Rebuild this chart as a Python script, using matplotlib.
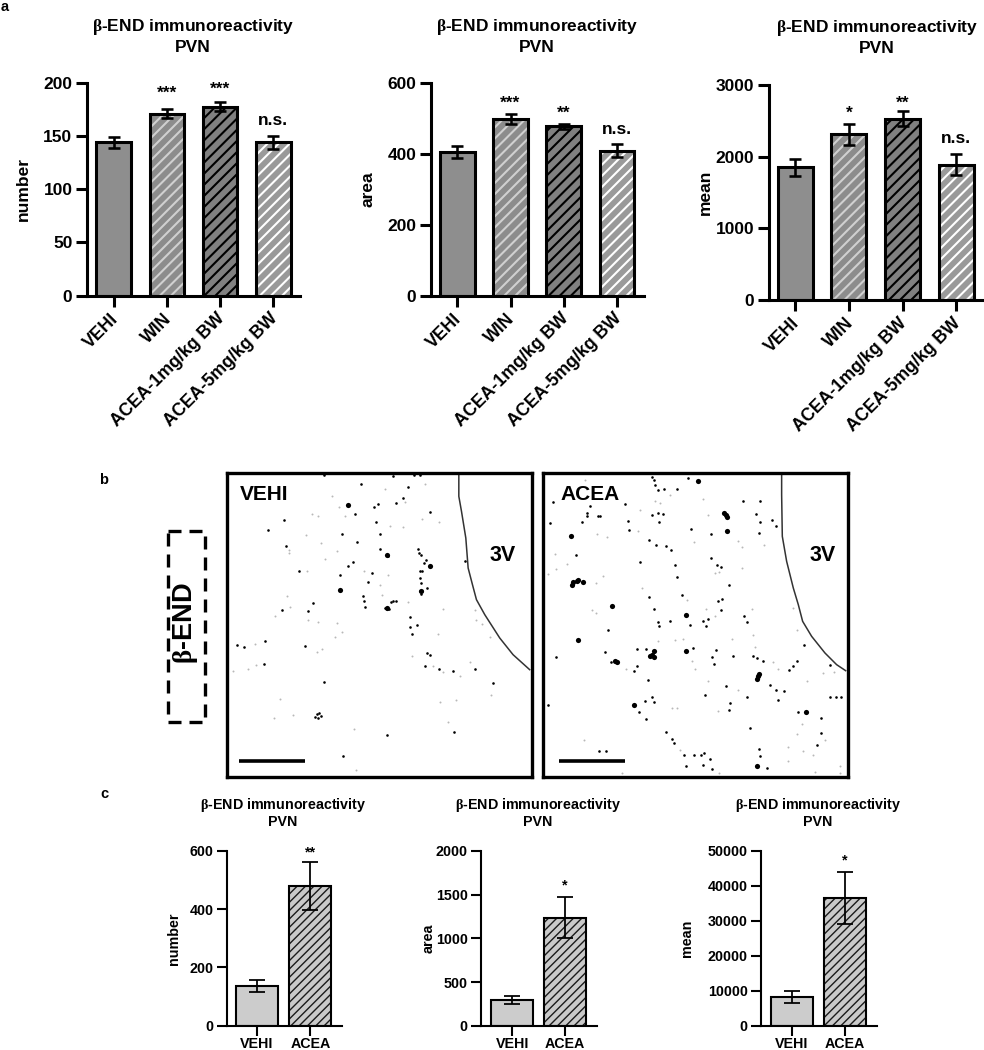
import matplotlib
matplotlib.use("Agg")
import matplotlib.pyplot as plt
from matplotlib.patches import Rectangle
from matplotlib.transforms import ScaledTranslation

W, H = 984, 1050
DPI = 100
PX = 72 / DPI
plt.rcParams['font.family'] = ['Liberation Sans', 'DejaVu Sans']
plt.rcParams['font.weight'] = 'bold'
plt.rcParams['mathtext.fontset'] = 'custom'
plt.rcParams['mathtext.it'] = 'Liberation Serif'
plt.rcParams['mathtext.rm'] = 'Liberation Sans:bold'
plt.rcParams['mathtext.default'] = 'regular'

# ---------- data ----------
groups_a = ['VEHI', 'WIN', 'ACEA-1mg/kg BW', 'ACEA-5mg/kg BW']
groups_c = ['VEHI', 'ACEA']
beta = r'$\mathit{\beta}$'
title_text = beta + '-END immunoreactivity\nPVN'

number_a = [144, 171, 177.5, 144]
number_a_err = [5, 4.5, 4, 6]
area_a = [405, 498, 477, 408]
area_a_err = [17, 15, 7, 18]
mean_a = [1850, 2310, 2530, 1890]
mean_a_err = [120, 150, 105, 150]
sig_number_a = ['', '***', '***', 'n.s.']
sig_area_a = ['', '***', '**', 'n.s.']
sig_mean_a = ['', '*', '**', 'n.s.']

number_c = [137, 480]
number_c_err = [20, 82]
area_c = [297, 1235]
area_c_err = [45, 235]
mean_c = [8200, 36500]
mean_c_err = [1600, 7400]
sig_number_c = ['', '**']
sig_area_c = ['', '*']
sig_mean_c = ['', '*']

vehi_dark = [(563,121),(655,117),(643,127),(709,116),(745,68),(811,142),(585,147),(371,165),(322,197),(547,208),(647,171),(659,208),(590,233),(378,243),(660,254),(681,271),(683,275),(775,253),(778,266),(783,270),(793,296),(809,303),(798,285),(415,319),(636,326),(540,332),(565,305),(578,292),(780,320),(785,318),(781,341),(784,355),(541,377),(624,353),(800,370),(780,380),(786,378),(782,387),(610,395),(613,410),(614,428),(700,408),(693,412),(708,408),(675,430),(681,432),(686,434),(460,414),(365,437),(443,438),(749,456),(772,480),(750,488),(757,507),(229,542),(250,547),(313,530),(436,543),(810,572),(800,566),(795,604),(310,597),(491,651),(1000,655),(882,803),(681,810),(549,875),(470,748),(478,745),(465,757),(483,755),(475,760),(730,99),(698,35),(762,32),(780,30),(491,30),(603,58),(878,618),(946,612),(838,613),(915,288)]
vehi_faint = [(515,95),(675,73),(795,57),(735,112),(537,128),(475,155),(455,147),(555,155),(785,162),(730,187),(690,183),(838,173),(438,210),(482,235),(385,255),(385,265),(532,258),(495,282),(612,320),(685,330),(440,320),(660,362),(665,390),(745,412),(850,432),(945,435),(380,393),(390,428),(345,455),(445,465),(475,472),(530,475),(545,503),(525,517),(285,537),(487,553),(470,563),(263,612),(287,600),(218,618),(755,575),(820,603),(848,623),(902,635),(930,593),(995,690),(840,713),(888,706),(360,702),(340,760),(397,752),(865,772),(582,792),(587,915),(835,508),(992,518),(968,478),(950,467)]
vehi_large = [(809,303),(784,380),(680,431),(681,272),(541,377),(563,121)]
vehi_curve = [(897,28),(897,95),(905,140),(918,220),(925,310),(938,360),(950,405),(975,450),(1020,520),(1060,570),(1110,615)]

acea_large = [(108,214),(454,450),(350,570),(358,578),(357,558),(345,575),(572,152),(568,146),(575,158),(575,198),(130,525),(240,590),(245,592),(297,720),(812,742),(670,635),(672,628),(666,642),(125,350),(115,352),(130,345),(143,353),(111,360),(230,425),(488,48),(453,560),(665,903)]
acea_dark = [(350,38),(356,45),(360,60),(370,75),(388,73),(425,72),(458,40),(55,112),(270,118),(165,125),(155,145),(155,155),(140,172),(190,153),(196,153),(368,145),(352,150),(385,148),(372,172),(467,193),(528,208),(625,110),(675,110),(663,148),(676,173),(672,205),(712,166),(724,183),(45,176),(280,170),(283,195),(343,225),(363,240),(393,245),(408,255),(122,270),(316,292),(420,302),(425,338),(528,280),(547,302),(558,308),(583,362),(440,390),(343,397),(357,433),(368,472),(372,485),(405,470),(220,497),(465,480),(512,485),(518,462),(505,468),(550,408),(560,403),(558,435),(626,455),(636,472),(210,563),(305,553),(333,553),(64,577),(228,592),(307,605),(297,620),(338,645),(352,697),(330,708),(358,712),(510,690),(473,550),(543,556),(530,578),(538,597),(595,573),(655,574),(667,580),(684,590),(775,605),(763,615),(786,590),(806,542),(705,661),(722,676),(748,680),(729,706),(636,697),(584,715),(583,735),(573,663),(790,742),(858,760),(645,790),(858,805),(846,840),(393,803),(412,822),(417,835),(193,860),(213,858),(332,762),(38,722),(448,872),(477,870),(497,870),(508,865),(524,882),(505,900),(530,913),(453,905),(672,852),(676,875),(886,602),(885,697),(903,697),(917,697),(695,910),(313,742)]
acea_faint = [(150,47),(60,268),(95,297),(63,312),(40,328),(182,355),(170,435),(182,445),(315,135),(185,207),(215,218),(308,200),(360,110),(375,115),(405,90),(505,103),(518,150),(478,232),(610,228),(620,247),(688,240),(622,310),(540,325),(552,322),(205,335),(320,370),(457,405),(513,432),(540,453),(650,432),(775,430),(785,495),(655,510),(590,522),(443,524),(368,530),(420,527),(660,548),(715,592),(730,612),(518,648),(610,676),(815,650),(865,625),(898,622),(425,730),(410,730),(550,738),(272,613),(800,778),(785,808),(870,825),(805,858),(835,870),(760,848),(758,890),(915,905),(915,925),(840,922),(552,925),(262,925),(147,825),(435,855),(480,612),(470,590)]
acea_curve = [(740,28),(740,90),(742,215),(755,290),(775,370),(790,420),(803,470),(830,515),(870,565),(905,600),(932,618)]

# ---------- styles ----------
styles_a = [('#8e8e8e', None), ('#8c8c8c', '#d0d0d0'), ('#808080', '#000000'), ('#9a9a9a', '#ffffff')]
styles_c = [('#cccccc', None), ('#c9c9c9', '#1a1a1a')]

fig = plt.figure(figsize=(W / DPI, H / DPI), dpi=DPI, facecolor='white')


def axes_px(left, top, right, bottom):
    return fig.add_axes([left / W, 1 - bottom / H, (right - left) / W, (bottom - top) / H])


def fig_text(x, y, s, **kw):
    kw.setdefault('ha', 'center')
    kw.setdefault('va', 'center')
    return fig.text(x / W, 1 - y / H, s, **kw)


def bar_panel(left, right, top, bottom, c0, step, labels, values, errs, ymax, ticks, ylabel,
              label_x, title_x, title_y, sigs, sig_dy, styles, width, lw, fs, cap, tick_len, rot,
              hatch, hatch_lw, pad, spacing):
    plt.rcParams['hatch.linewidth'] = hatch_lw
    ax = axes_px(left, top, right, bottom)
    ax.patch.set_alpha(0)
    xs = list(range(len(labels)))
    for x, v, e, (fc, hc) in zip(xs, values, errs, styles):
        if hc:
            ax.bar(x, v, width, color=fc, edgecolor=hc, hatch=hatch, linewidth=0, zorder=2)
        else:
            ax.bar(x, v, width, color=fc, linewidth=0, zorder=2)
        ax.bar(x, v, width, fill=False, edgecolor='black', linewidth=lw, zorder=3)
        ax.errorbar(x, v, yerr=e, color='black', elinewidth=lw * 0.85, capsize=cap,
                    capthick=lw * 0.85, zorder=4)
    ax.set_xlim((left - c0) / step, (right - c0) / step)
    ax.set_ylim(0, ymax)
    ax.set_yticks(ticks)
    ax.set_xticks(xs)
    if rot:
        ax.set_xticklabels(labels, rotation=45, ha='right', rotation_mode='anchor', fontsize=fs + 0.3)
    else:
        ax.set_xticklabels(labels, fontsize=fs)
    ax.tick_params(axis='y', width=lw, length=tick_len, labelsize=fs, pad=2.5)
    ax.tick_params(axis='x', width=lw, length=tick_len, pad=pad)
    if rot:
        shift = ScaledTranslation(-4 * PX / 72, 0, fig.dpi_scale_trans)
        for t in ax.get_xticklabels():
            t.set_transform(t.get_transform() + shift)
    for s in ('top', 'right'):
        ax.spines[s].set_visible(False)
    for s in ('left', 'bottom'):
        ax.spines[s].set_linewidth(lw)
    ax.set_ylabel(ylabel, fontsize=fs, va='center', fontweight='bold')
    ax.yaxis.set_label_coords((label_x - left) / (right - left), 0.5)
    fig_text(title_x, title_y, title_text, fontsize=fs, linespacing=spacing)
    for x, v, e, s, d in zip(xs, values, errs, sigs, sig_dy):
        if s:
            em = fs / PX
            frac = 0.40 if s[0] == '*' else 0.26
            ax.annotate(s, (x, v + e), xytext=(0, (d - frac * em) * PX), textcoords='offset points',
                        ha='center', va='baseline', fontsize=fs)
    return ax


def micrograph(left, right, x0, x1, dark, faint, large, curve, name, name_x, v3_x, bar_x):
    ax = axes_px(left, 473, right, 777)
    ax.set_xlim(x0, x1)
    ax.set_ylim(937, 25)
    ax.set_xticks([])
    ax.set_yticks([])
    for s in ax.spines.values():
        s.set_linewidth(2.4)
    ax.scatter(*zip(*faint), s=2, c='#b8b8b8', linewidths=0)
    ax.scatter(*zip(*dark), s=3.5, c='black', linewidths=0)
    ax.scatter(*zip(*large), s=14, c='black', linewidths=0)
    ax.plot(*zip(*curve), color='#333333', lw=1.1)
    ax.plot(bar_x, [889, 889], color='black', lw=2.6, solid_capstyle='butt')
    ax.text(name_x, 90, name, fontsize=15, ha='left', va='center')
    ax.text(v3_x, 273, '3V', fontsize=15.5, ha='left', va='center')


# ---------- panel a ----------
a_kw = dict(styles=styles_a, width=0.65, lw=2.2, fs=12.5, cap=4, tick_len=8, rot=True,
            hatch='///', hatch_lw=1.5, pad=2.5, spacing=1.25)
bar_panel(87, 300, 82.7, 295.7, 113.7, 53.2, groups_a, number_a, number_a_err, 200,
          [0, 50, 100, 150, 200], 'number', 23, 193, 36, sig_number_a, [0, 18, 15.7, 15], **a_kw)
bar_panel(431, 644, 82.7, 295.7, 457.3, 53.2, groups_a, area_a, area_a_err, 600,
          [0, 200, 400, 600], 'area', 368, 537, 36, sig_area_a, [0, 13, 13, 15], **a_kw)
bar_panel(769, 983, 85, 300, 795.3, 53.6, groups_a, mean_a, mean_a_err, 3000,
          [0, 1000, 2000, 3000], 'mean', 705, 877, 37, sig_mean_a, [0, 12.7, 10.4, 15.5], **a_kw)

# ---------- panel b ----------
micrograph(227, 532, 200, 1117, vehi_dark, vehi_faint, vehi_large, vehi_curve, 'VEHI', 238, 990, [237, 435])
micrograph(543, 848.3, 24, 940, acea_dark, acea_faint, acea_large, acea_curve, 'ACEA', 75, 823, [72, 270])

overlay = axes_px(0, 0, W, H)
overlay.set_xlim(0, W)
overlay.set_ylim(H, 0)
overlay.axis('off')
overlay.add_patch(Rectangle((168, 531), 37, 191, fill=False, edgecolor='black', lw=2.4,
                            linestyle=(0, (3.9, 2.4))))
fig_text(186, 623, beta + '-END', fontsize=19.5, rotation=90)

# ---------- panel c ----------
c_kw = dict(styles=styles_c, width=0.79, lw=1.5, fs=10.3, cap=6, tick_len=7, rot=False,
            hatch='////', hatch_lw=1.0, pad=1, spacing=1.15)
bar_panel(226.7, 342, 851, 1025.7, 257, 53.3, groups_c, number_c, number_c_err, 600,
          [0, 200, 400, 600], 'number', 174, 283, 812.5, sig_number_c, [0, 11], **c_kw)
bar_panel(481, 596.7, 851, 1025.7, 512.3, 52.7, groups_c, area_c, area_c_err, 2000,
          [0, 500, 1000, 1500, 2000], 'area', 429, 538, 812.5, sig_area_c, [0, 14], **c_kw)
bar_panel(760.7, 876.7, 851, 1025.7, 792, 53, groups_c, mean_c, mean_c_err, 50000,
          [0, 10000, 20000, 30000, 40000, 50000], 'mean', 687, 818, 812.5, sig_mean_c, [0, 14], **c_kw)

# ---------- panel letters ----------
fig_text(5, 7, 'a', fontsize=10.5)
fig_text(104, 480, 'b', fontsize=10.5)
fig_text(104, 794, 'c', fontsize=10.5)

fig.savefig('out.png', dpi=DPI)
